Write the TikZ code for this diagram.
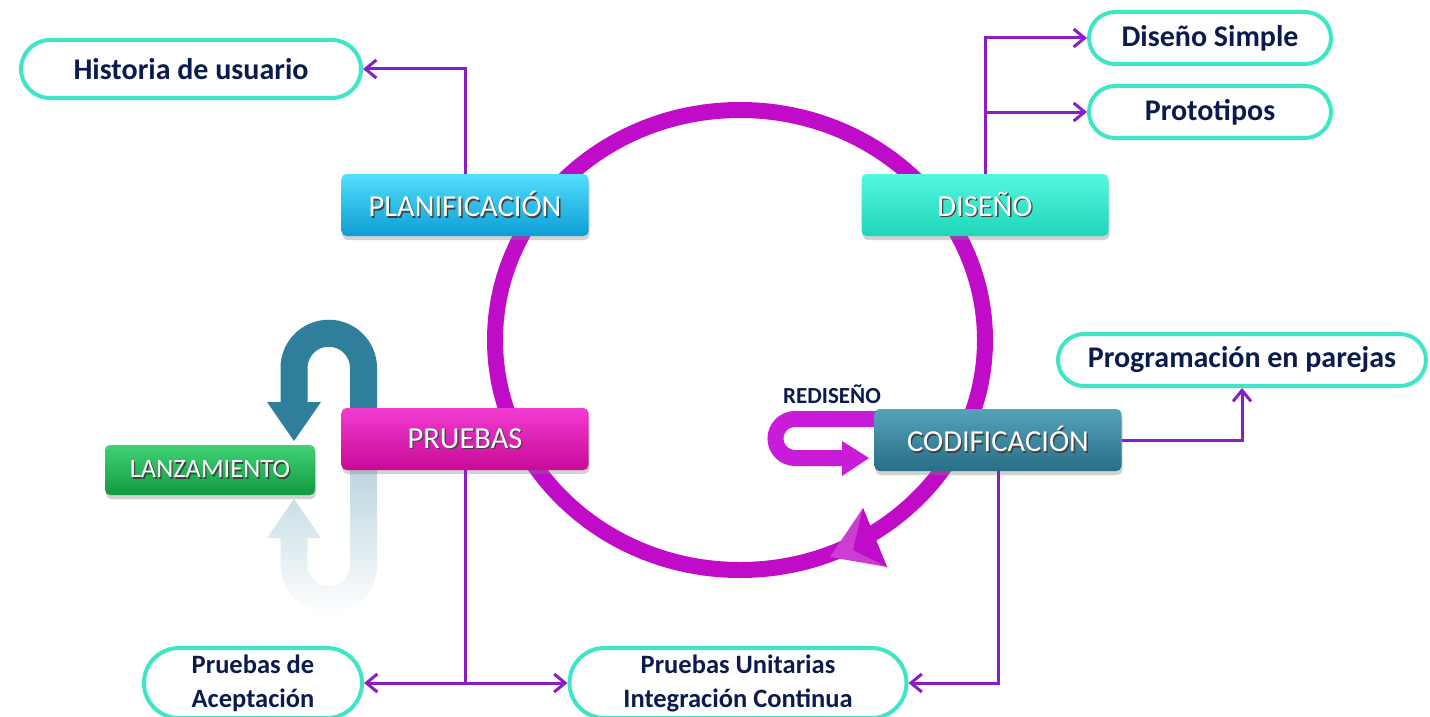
\documentclass[tikz,border=0pt]{standalone}
\usepackage{fontspec}
\setmainfont{Carlito}
\usetikzlibrary{shapes.misc,shadows,fadings,arrows.meta}

\definecolor{ringmag}{HTML}{C00CC8}
\definecolor{redmag}{HTML}{C81CD8}
\definecolor{linkpurple}{HTML}{8A1DC4}
\definecolor{pillrim}{HTML}{3FE6C6}
\definecolor{navy}{HTML}{0B1B4D}
\definecolor{tealarrow}{HTML}{2F7E9C}
\definecolor{planhi}{HTML}{52DEFB}
\definecolor{planlo}{HTML}{0E9DD6}
\definecolor{dishi}{HTML}{55F7DE}
\definecolor{dislo}{HTML}{1ED6BA}
\definecolor{pruhi}{HTML}{F23CD2}
\definecolor{prulo}{HTML}{C80A96}
\definecolor{codhi}{HTML}{55A3BA}
\definecolor{codlo}{HTML}{286E86}
\definecolor{lanhi}{HTML}{40D274}
\definecolor{lanlo}{HTML}{139940}

\tikzfading[name=fadedown, top color=transparent!30, bottom color=transparent!100]

\newcommand{\phasefont}{\fontsize{30.5}{36}\selectfont}
\newcommand{\pillfont}{\fontsize{30}{34}\selectfont\bfseries}
\newcommand{\lowpillfont}{\fontsize{26.5}{34}\selectfont\bfseries}
\newcommand{\shadowtext}[1]{{\color{black!75}\rlap{\hspace{1.3pt}\raisebox{-1.3pt}{#1}}}#1}

\tikzset{
  phase/.style={rectangle, rounded corners=5pt, minimum width=247pt, minimum height=62pt,
    text=white, font=\phasefont, inner sep=2pt,
    drop shadow={opacity=0.35, shadow xshift=1pt, shadow yshift=-4pt}},
  pill/.style={rounded rectangle, draw=pillrim, line width=4pt, fill=white,
    text=navy, font=\pillfont, inner sep=2pt, minimum height=52pt},
  conn/.style={draw=linkpurple, line width=3pt, -{Straight Barb[length=11pt,width=18pt]}},
}

\begin{document}
\begin{tikzpicture}[x=1pt,y=-1pt]
      \useasboundingbox[fill=white] (0,0) rectangle (1430,717);

      \draw[ringmag, line width=16pt] (740,340) ellipse [x radius=245, y radius=230];
      \fill[ringmag!80!white] (863,508) -- (830,557) -- (887,567) -- cycle;
      \fill[ringmag] (863,508) -- (853,550) -- (887,567) -- cycle;

      \draw[tealarrow, line width=27pt] (363.5,410) -- (363.5,368)
        arc[start angle=0, end angle=-180, radius=34.75] -- (294,404);
      \fill[tealarrow] (267,402) -- (321,402) -- (294,441) -- cycle;
      \fill[tealarrow!45!white, path fading=fadedown] (377,470) -- (377,565)
        arc[start angle=0, end angle=180, radius=48.25] -- (280.5,538) -- (267,538)
        -- (294,499) -- (321,538) -- (307.5,538) -- (307.5,565)
        arc[start angle=180, end angle=0, radius=21.25] -- (350,470) -- cycle;

      \draw[redmag, line width=16pt] (880,419) -- (795,419)
        arc[start angle=-90, end angle=-270, radius=19.5] -- (844,458);
      \fill[redmag] (842,441) -- (869,458) -- (842,476) -- cycle;

      \node[phase, top color=planhi, bottom color=planlo] (plan) at (465,205) {\shadowtext{PLANIFICACIÓN}};
      \node[phase, top color=dishi, bottom color=dislo] (dis) at (985,205) {\shadowtext{DISEÑO}};
      \node[phase, top color=pruhi, bottom color=prulo] (prue) at (465,439) {\shadowtext{PRUEBAS}};
      \node[phase, top color=codhi, bottom color=codlo] (cod) at (998,440) {\shadowtext{CODIFICACIÓN}};
      \node[phase, top color=lanhi, bottom color=lanlo, minimum width=210pt, minimum height=50pt,
        font=\fontsize{26.5}{30}\selectfont] (lanz) at (210,470) {\shadowtext{LANZAMIENTO}};

      \node[text=navy, font=\fontsize{23}{26}\selectfont\bfseries] (redis) at (832,394) {REDISEÑO};

      \node[pill, minimum width=344pt, minimum height=58pt] (hist) at (191,69) {Historia de usuario};
      \node[pill, minimum width=246pt] (dsimple) at (1210,38) {Diseño Simple};
      \node[pill, minimum width=246pt] (proto) at (1210,112) {Prototipos};
      \node[pill, minimum width=372pt] (prog) at (1242,360) {Programación en parejas};
      \node[pill, minimum width=222pt, minimum height=70pt, align=center, font=\lowpillfont] (acept) at (253,683) {Pruebas de\\Aceptación};
      \node[pill, minimum width=341pt, minimum height=70pt, align=center, font=\lowpillfont] (unit) at (738,683) {Pruebas Unitarias\\Integración Continua};

      \draw[conn] (plan.north) |- (hist.east);
      \draw[conn] (dis.north) |- (dsimple.west);
      \draw[conn] (dis.north) |- (proto.west);
      \draw[conn] (cod.east) -| (prog.south);
      \draw[conn] (prue.south) |- (acept.east);
      \draw[conn] (prue.south) |- (unit.west);
      \draw[conn] (cod.south) |- (unit.east);
    \end{tikzpicture}
\end{document}
